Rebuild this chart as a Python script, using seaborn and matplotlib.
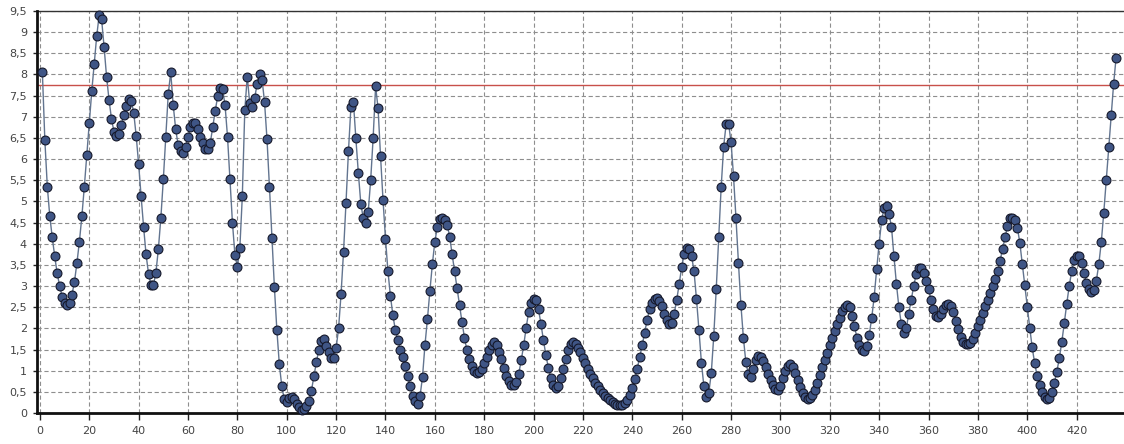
import matplotlib
matplotlib.use("Agg")
import matplotlib.pyplot as plt
import seaborn as sns
from matplotlib.ticker import MultipleLocator, FuncFormatter

# Measured series, one value per sample (samples numbered from 1)
values = [
    8.05, 6.45, 5.35, 4.65, 4.15, 3.7, 3.3, 3.0, 2.75, 2.6,
    2.55, 2.6, 2.8, 3.1, 3.55, 4.05, 4.65, 5.35, 6.1, 6.85,
    7.6, 8.25, 8.9, 9.4, 9.3, 8.65, 7.95, 7.4, 6.95, 6.65,
    6.55, 6.6, 6.8, 7.05, 7.25, 7.42, 7.38, 7.1, 6.55, 5.88,
    5.12, 4.4, 3.75, 3.29, 3.03, 3.03, 3.32, 3.88, 4.61, 5.52,
    6.53, 7.54, 8.05, 7.28, 6.71, 6.33, 6.18, 6.14, 6.29, 6.53,
    6.77, 6.86, 6.85, 6.71, 6.53, 6.37, 6.25, 6.23, 6.37, 6.75,
    7.13, 7.48, 7.68, 7.65, 7.28, 6.53, 5.52, 4.5, 3.74, 3.45,
    3.9, 5.12, 7.15, 7.95, 7.32, 7.22, 7.44, 7.78, 8.0, 7.88,
    7.35, 6.47, 5.34, 4.13, 2.97, 1.96, 1.15, 0.63, 0.32, 0.26,
    0.36, 0.38, 0.32, 0.21, 0.13, 0.07, 0.09, 0.16, 0.29, 0.53,
    0.87, 1.2, 1.5, 1.7, 1.74, 1.58, 1.43, 1.31, 1.31, 1.53,
    2.0, 2.81, 3.8, 4.96, 6.18, 7.24, 7.36, 6.49, 5.68, 4.95,
    4.6, 4.48, 4.75, 5.5, 6.5, 7.72, 7.2, 6.07, 5.04, 4.12,
    3.35, 2.77, 2.31, 1.96, 1.72, 1.5, 1.32, 1.11, 0.87, 0.63,
    0.41, 0.28, 0.21, 0.4, 0.85, 1.61, 2.22, 2.89, 3.52, 4.05,
    4.39, 4.59, 4.6, 4.57, 4.45, 4.17, 3.75, 3.35, 2.95, 2.55,
    2.15, 1.78, 1.48, 1.27, 1.12, 1.0, 0.95, 0.97, 1.05, 1.18,
    1.33, 1.48, 1.6, 1.68, 1.6, 1.45, 1.28, 1.07, 0.88, 0.75,
    0.67, 0.66, 0.74, 0.93, 1.25, 1.6, 2.02, 2.38, 2.6, 2.7,
    2.68, 2.45, 2.1, 1.72, 1.36, 1.07, 0.83, 0.66, 0.58, 0.64,
    0.82, 1.05, 1.28, 1.48, 1.62, 1.67, 1.64, 1.54, 1.43, 1.3,
    1.18, 1.05, 0.93, 0.82, 0.72, 0.63, 0.55, 0.48, 0.41, 0.35,
    0.3, 0.25, 0.21, 0.19, 0.18, 0.19, 0.23, 0.3, 0.42, 0.58,
    0.8, 1.05, 1.32, 1.6, 1.9, 2.2, 2.45, 2.6, 2.7, 2.72,
    2.65, 2.52, 2.35, 2.2, 2.1, 2.12, 2.35, 2.68, 3.05, 3.45,
    3.75, 3.9, 3.88, 3.72, 3.35, 2.69, 1.96, 1.19, 0.63, 0.37,
    0.48, 0.95, 1.82, 2.93, 4.16, 5.34, 6.29, 6.82, 6.84, 6.4,
    5.6, 4.6, 3.55, 2.55, 1.78, 1.2, 0.92, 0.85, 1.05, 1.25,
    1.35, 1.33, 1.22, 1.08, 0.92, 0.78, 0.65, 0.56, 0.55, 0.63,
    0.82, 1.0, 1.12, 1.15, 1.08, 0.95, 0.78, 0.62, 0.48, 0.38,
    0.33, 0.35, 0.42, 0.55, 0.72, 0.9, 1.08, 1.25, 1.42, 1.6,
    1.77, 1.93, 2.1, 2.25, 2.4, 2.5, 2.55, 2.5, 2.3, 2.05,
    1.78, 1.6, 1.5, 1.47, 1.58, 1.85, 2.25, 2.75, 3.4, 4.0,
    4.55, 4.85, 4.88, 4.7, 4.4, 3.7, 3.05, 2.5, 2.1, 1.9,
    2.0, 2.35, 2.68, 3.0, 3.28, 3.42, 3.42, 3.3, 3.12, 2.92,
    2.68, 2.45, 2.3, 2.28, 2.35, 2.45, 2.55, 2.58, 2.52, 2.38,
    2.18, 1.98, 1.8, 1.68, 1.62, 1.62, 1.66, 1.76, 1.9, 2.05,
    2.2, 2.36, 2.52, 2.68, 2.84, 3.0, 3.17, 3.36, 3.6, 3.88,
    4.15, 4.42, 4.6, 4.62, 4.55, 4.38, 4.02, 3.52, 3.02, 2.5,
    2.02, 1.55, 1.18, 0.88, 0.66, 0.5, 0.38, 0.32, 0.36, 0.5,
    0.72, 0.98, 1.3, 1.68, 2.12, 2.58, 3.0, 3.35, 3.62, 3.72,
    3.7, 3.55, 3.3, 3.08, 2.92, 2.85, 2.9, 3.13, 3.52, 4.04,
    4.73, 5.5, 6.29, 7.05, 7.78, 8.4,
]
sample_index = list(range(1, len(values) + 1))

threshold = 7.75
x_ticks = list(range(0, 421, 20))
y_ticks = [i * 0.5 for i in range(20)]

sns.set_theme(style="white")
plt.rcParams["font.family"] = ["DejaVu Sans"]

fig = plt.figure(figsize=(11.24, 4.44), dpi=100, facecolor="white")
# plot area runs to the right edge of the image, without a right border
ax = fig.add_axes([36.7 / 1124, 31 / 444, 1 - 36.7 / 1124, 402 / 444])
ax.set_facecolor("white")

# dashed grid behind the data
ax.set_axisbelow(True)
ax.grid(True, which="major", linestyle=(0, (3.8, 2.4)), color="#8e8e8e", linewidth=0.8)

sns.lineplot(
    x=sample_index, y=values, ax=ax,
    color="#62748f", linewidth=1.0,
    marker="o", markersize=6.4,
    markerfacecolor="#3f5585", markeredgecolor="#15182a", markeredgewidth=0.8,
    zorder=4, clip_on=False,
)

ax.axhline(threshold, color="#c8504a", linewidth=1.0, zorder=2)

ax.set_xlim(-1.3, 439.2)
ax.set_ylim(0, 9.5)
ax.set_xticks(x_ticks)
ax.set_yticks(y_ticks)
ax.xaxis.set_minor_locator(MultipleLocator(4))
ax.yaxis.set_major_formatter(FuncFormatter(lambda v, _: ("%g" % v).replace(".", ",")))

ax.tick_params(axis="x", which="major", direction="out", length=5, width=1,
               color="#222222", labelsize=8, labelcolor="#444444", pad=4)
ax.tick_params(axis="y", which="major", direction="out", length=3, width=1,
               color="#222222", labelsize=8, labelcolor="#444444", pad=4)
ax.tick_params(axis="x", which="minor", direction="out", length=3, width=1, color="#222222")
ax.tick_params(left=True, bottom=True)

for side in ("left", "bottom"):
    ax.spines[side].set_color("#111111")
    ax.spines[side].set_linewidth(2.0)
    ax.spines[side].set_zorder(3)
ax.spines["top"].set_color("#333333")
ax.spines["top"].set_linewidth(1.0)
ax.spines["right"].set_visible(False)

ax.set_xlabel("")
ax.set_ylabel("")

fig.savefig("out.png", dpi=100, facecolor="white")
